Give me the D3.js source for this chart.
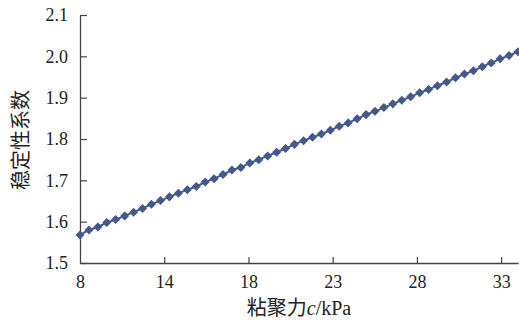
<!DOCTYPE html>
<html>
<head>
<meta charset="utf-8">
<script src="https://cdn.jsdelivr.net/npm/d3@7"></script>
<style>
  body { margin: 0; background: #fff; }
  svg { display: block; }
  .tick text { font-family: "Liberation Serif", "Times New Roman", serif; font-size: 18px; fill: #222; }
</style>
</head>
<body>
<div id="chart"></div>
<script>
// cohesion c (kPa) of each computed point
var cohesion = [8.00, 8.53, 9.06, 9.59, 10.12, 10.65, 11.18, 11.71, 12.24, 12.78,
  13.31, 13.84, 14.37, 14.90, 15.43, 15.96, 16.49, 17.02, 17.55, 18.08,
  18.61, 19.14, 19.67, 20.20, 20.73, 21.27, 21.80, 22.33, 22.86, 23.39,
  23.92, 24.45, 24.98, 25.51, 26.04, 26.57, 27.10, 27.63, 28.16, 28.69,
  29.22, 29.76, 30.29, 30.82, 31.35, 31.88, 32.41, 32.94, 33.47, 34.00];
// stability factor
var factor = [1.568, 1.580, 1.587, 1.598, 1.605, 1.614, 1.623, 1.632, 1.642, 1.651,
  1.660, 1.669, 1.677, 1.685, 1.696, 1.704, 1.714, 1.725, 1.731, 1.742,
  1.750, 1.759, 1.768, 1.777, 1.787, 1.796, 1.804, 1.812, 1.821, 1.831,
  1.839, 1.849, 1.859, 1.867, 1.876, 1.885, 1.894, 1.902, 1.912, 1.920,
  1.929, 1.938, 1.948, 1.957, 1.965, 1.975, 1.984, 1.994, 2.002, 2.011];

var xTicks = [8, 13, 18, 23, 28, 33];
var xTickLabels = ["8", "14", "18", "23", "28", "33"];
var yTicks = [1.5, 1.6, 1.7, 1.8, 1.9, 2.0, 2.1];

var width = 519, height = 320;
var margin = {top: 15, right: 1, bottom: 57, left: 80};

var svg = d3.select("#chart").append("svg")
  .attr("width", width)
  .attr("height", height);

var x = d3.scaleLinear().domain([8, 34]).range([margin.left, width - margin.right]);
var y = d3.scaleLinear().domain([1.5, 2.1]).range([height - margin.bottom, margin.top]);

// x axis, ticks pointing up into the plot
var xAxis = svg.append("g")
  .attr("transform", "translate(0," + (height - margin.bottom) + ")")
  .call(d3.axisBottom(x).tickValues(xTicks)
    .tickFormat(function(d, i) { return xTickLabels[i]; })
    .tickSizeInner(-6).tickSizeOuter(0).tickPadding(12));
xAxis.select(".domain").attr("stroke", "#444").attr("stroke-width", 1.3);
xAxis.selectAll(".tick line").attr("stroke", "#444").attr("stroke-width", 1.2);
xAxis.selectAll(".tick").filter(function(d) { return d === 8; }).select("line").remove();

// y axis, ticks pointing right
var yAxis = svg.append("g")
  .attr("transform", "translate(" + margin.left + ",0)")
  .call(d3.axisLeft(y).tickValues(yTicks).tickFormat(d3.format(".1f"))
    .tickSizeInner(-7).tickSizeOuter(0).tickPadding(12));
yAxis.select(".domain").attr("stroke", "#444").attr("stroke-width", 1.3);
yAxis.selectAll(".tick line").attr("stroke", "#444").attr("stroke-width", 1.2);

var pts = cohesion.map(function(c, i) { return [c, factor[i]]; });

svg.append("path")
  .datum(pts)
  .attr("fill", "none")
  .attr("stroke", "#44598c")
  .attr("stroke-width", 2)
  .attr("d", d3.line().x(function(d) { return x(d[0]); }).y(function(d) { return y(d[1]); }));

svg.append("g").selectAll("path")
  .data(pts)
  .join("path")
  .attr("d", d3.symbol().type(d3.symbolDiamond2).size(52))
  .attr("transform", function(d) { return "translate(" + x(d[0]) + "," + y(d[1]) + ")"; })
  .attr("fill", "#43598c");

// axis titles
var xt = svg.append("text")
  .attr("x", 299)
  .attr("y", 315)
  .attr("text-anchor", "middle")
  .attr("font-size", 20)
  .attr("fill", "#222");
xt.append("tspan").attr("font-family", "'Noto Sans CJK SC'").text("粘聚力");
xt.append("tspan").attr("font-family", "'Liberation Serif', serif").attr("font-style", "italic").text("c");
xt.append("tspan").attr("font-family", "'Liberation Serif', serif").text("/kPa");

svg.append("text")
  .attr("transform", "translate(28,140) rotate(-90)")
  .attr("text-anchor", "middle")
  .attr("font-family", "'Noto Sans CJK SC'")
  .attr("font-size", 20)
  .attr("fill", "#222")
  .text("稳定性系数");
</script>
</body>
</html>
